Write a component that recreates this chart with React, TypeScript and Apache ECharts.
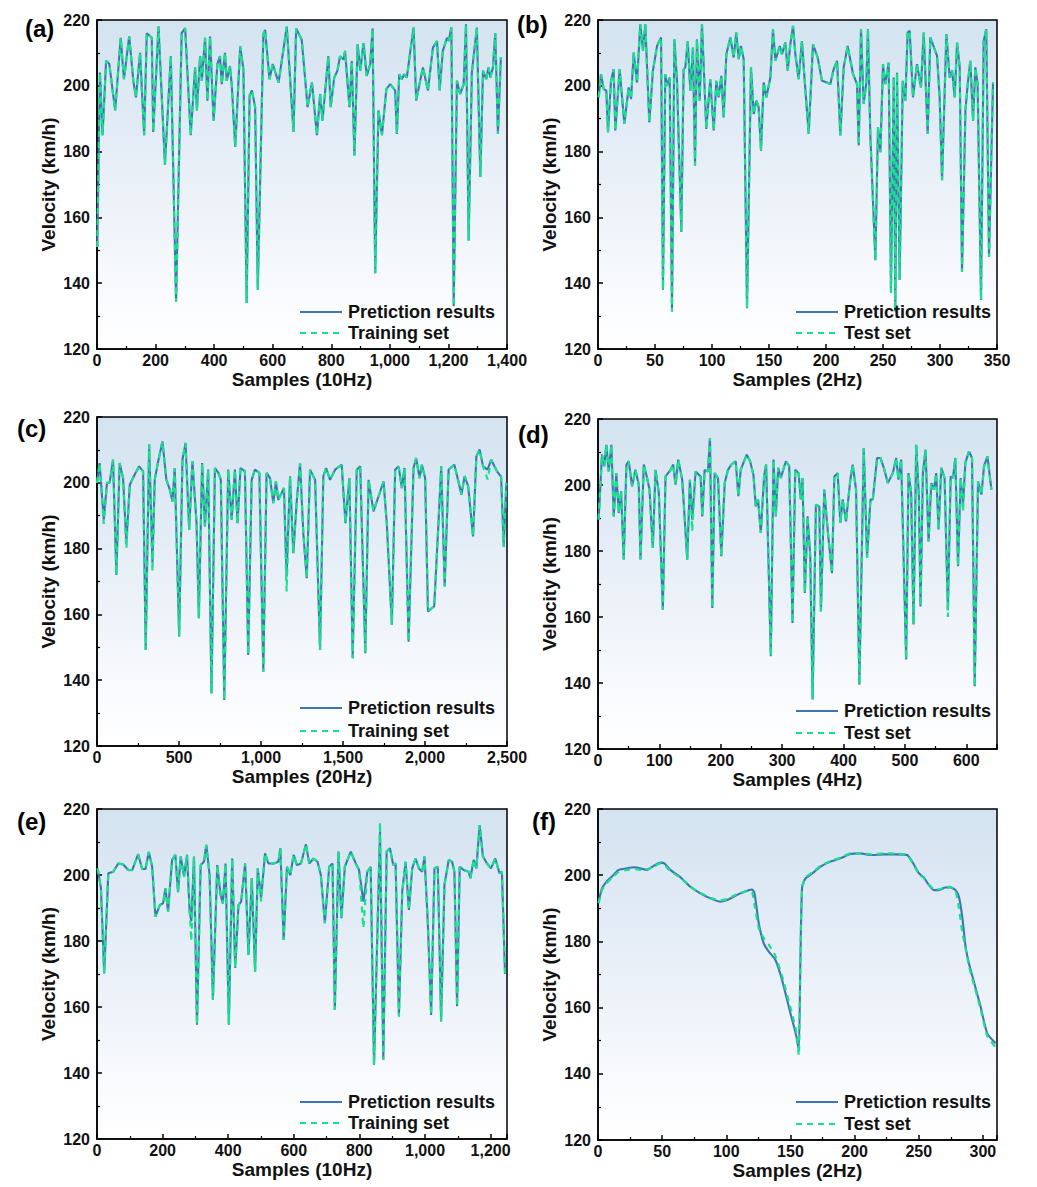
import React, { useEffect, useRef } from 'react';
import * as echarts from 'echarts';

// ---------- Panel (a) 10Hz training ----------
const aX = [1,10,19,31,42,62,81,92,110,124,133,147,161,170,187,192,210,232,252,270,289,301,320,335,341,352,358,369,377,386,398,411,420,426,437,443,454,460,472,489,500,511,521,529,540,549,568,574,589,600,620,648,671,680,699,719,734,751,762,770,790,798,810,821,830,842,847,862,870,879,890,899,910,921,933,941,950,961,973,988,1001,1018,1024,1032,1041,1049,1058,1070,1081,1090,1101,1113,1130,1147,1161,1170,1181,1195,1201,1210,1218,1229,1240,1252,1260,1269,1280,1297,1309,1318,1329,1337,1343,1352,1360,1369,1379];
const aPred = [151,204,185,207.6,206.6,192.5,214.6,202,215,201.5,196.5,210,185,216,214.6,186,218,176,209,134.4,216,217.5,185,205.6,192.5,209,201.5,214.6,195.5,215,189.4,206.6,209,200.5,210,201.5,206,200.5,181.4,212,205,134,197,198.6,193.5,138,215.7,217,202,206.6,201,218,186,217.4,214,193.5,201,185,197.5,189.4,209,193.5,202.5,204.6,209,208,210.6,193.5,207.5,178.8,212.6,204.6,213,203,206.6,217.4,143,192.5,185,199,200.5,198.6,185.4,203.5,202,203.5,202.5,210.6,217.7,195.5,200.5,205.6,198.6,211.6,213.6,198.6,210.6,214.6,213.6,217.7,133,201.5,197.5,200.5,218.7,153,204,217.7,172.3,204.6,202,205.6,202.5,205.6,216,185.4,208.6];
const aTrainOverrides: Record<number, number> = {};

// ---------- Panel (b) 2Hz test ----------
const bX = [0.6,2.6,5,7.3,8.8,11.4,13.7,15.2,19,23.1,26.9,29,31.3,34.2,37.1,39.5,41.5,45,48.2,51.8,55.3,57,59,60.5,62.9,64.9,67,69.3,73.1,75.1,76.6,78.7,81,83.3,85.1,86.8,89.2,91.2,95,98.5,101.5,103.8,105.8,108.2,110.2,112.6,116.1,119,121.3,123.4,125.4,127.8,130.7,134.2,136.6,138.9,140.9,143,145.3,147.7,151.2,153.5,155.6,159.4,161.4,164.3,166.4,168.7,171.1,173.1,176,178.9,181,184.8,188.6,192.7,196.5,200.9,203.8,206.7,209.7,212.6,215.5,219,223.7,227.2,228.7,230.7,233,235.4,236.8,238.9,243.3,245.6,247.7,250,252,255,257,259.4,260.8,262.3,264.6,267.3,269.6,271.6,273.4,276.3,279.8,283.3,285.7,289.2,291.5,297.4,299.7,301.8,305.6,308.5,310.6,312.9,315,317.3,319.3,322.3,324.3,326.6,329,331,333,336,338.3,340.6,343,346.5];
const bPred = [196.5,203.5,199,198.5,185.9,201.5,205,186.4,205,188.4,199.5,196,210.1,201,218.7,210.6,218.7,188.9,204.6,212.1,214.7,138,203.5,200,202.5,131.4,214.1,201.5,155.6,205,205.6,213.6,198.5,211.6,175.8,214.1,195.5,218.7,186.9,202,186.4,201.5,196.5,203,190.4,209.6,214.7,208.6,216.2,208.1,212.1,208.1,132.4,205.6,191.4,195.5,193.5,180.3,201,196.5,202.5,217.2,207.6,212.1,209.6,213.2,204.6,212.6,218.2,209.6,202,213.6,203,185.4,212.6,208.6,201.5,201,200.5,205,207.6,184.9,205.6,212.1,203.6,200.5,181.9,217.2,194.5,201,217.2,184.9,147,187.4,179.8,206.6,200.5,207,137,202.5,131.4,204,141,201.5,195.5,216.2,216.7,196.5,206.6,199.5,216.2,185.4,214.7,209.1,196.5,171.3,215.7,202.5,204.6,196.5,213.1,205.6,143.5,192.5,200.5,207.6,189.4,205.6,200.5,134.9,213.6,217.2,148,201];
const bTestOverrides: Record<number, number> = {};

// ---------- Panel (c) 20Hz training ----------
const cX = [0,16,41,61,77,98,118,138,159,179,200,230,257,281,297,318,338,352,373,399,423,444,460,474,501,521,540,562,582,607,621,641,658,678,698,719,740,755,776,800,821,841,857,875,902,922,943,963,990,1014,1034,1055,1075,1091,1105,1126,1140,1156,1177,1197,1217,1238,1258,1279,1299,1330,1360,1380,1397,1421,1452,1492,1515,1539,1559,1584,1605,1636,1656,1686,1717,1747,1767,1798,1818,1839,1859,1875,1900,1930,1946,1967,1981,2001,2018,2042,2056,2079,2099,2120,2144,2179,2206,2222,2242,2263,2293,2313,2333,2354,2382,2403,2439,2464,2480,2496];
const cPred = [200,206,188.8,200,200,207,172,206,201.4,181.7,199.4,202.5,205,203.5,149.2,211.6,175.6,200.9,206.5,212.6,200.9,197.9,194.3,204.5,153.3,207,212.1,185.7,206.5,187.7,158.8,206,186.7,204,136,204.5,203,200.9,134,204,188.8,204,187.7,204.5,203.5,147.7,200.9,204,203,142.6,203,201.4,193.8,200.4,194.8,196.9,198.4,171.5,202,178.6,193.8,206,184.7,171,204,200.9,149.2,202,204.5,200.9,204,205.5,187.7,201.4,146.7,204,205,148.2,200.9,191.3,195.9,200.4,187.7,156.8,204,205,198.4,204.5,151.7,204.5,207.5,201.4,205.5,201.4,160.9,161.9,162.4,184.7,205,168.5,204,205.5,199.9,196.4,202,199,183.7,208,210.1,205,204,207,203.5,201.9,180.6,200];
const cTrainOverrides: Record<number, number> = { 2: 187.5, 9: 180, 16: 173, 57: 167, 110: 201 };

// ---------- Panel (d) 4Hz test ----------
const dX = [1,6.5,10.3,13.6,17.4,21.8,25.6,29.9,33.8,37.6,41.9,46.3,50.1,55.5,61,66.4,69.2,74.6,80,83.9,89.3,93.7,99.1,105.6,110,118.2,122.5,126.3,130.7,137.2,145.4,149.7,153.5,159,167.2,169.9,173.7,179.1,182.4,186.2,190,195.5,200.9,206.4,211.8,217.3,224.3,228.7,232.5,236.9,242.3,247.8,253.2,257.1,260.8,265.2,270.6,273.9,281.5,285.9,289.7,293.5,297.8,306,311.5,316.9,321.3,326.7,330.5,333.2,337,341.4,345.8,349.6,355,360.5,363.2,368.6,374.1,381.2,385,390.4,394.8,398.6,404,411.1,414.9,420.4,425.8,432.9,438.3,443.8,447.6,454.7,460.1,465.6,472.1,480.3,485.7,489.5,493.9,502,505.8,510.2,514,518.4,522.7,525.4,529.3,533.6,538.5,542.9,547.2,551,554.8,559.2,564.6,570,574.5,578.3,582.1,586.5,590.8,594.7,598.4,604.4,609.3,613.7,619.1,624.6,628.9,634.4,640.9];
const dPred = [189.5,209.2,205.7,212.2,204.1,212.2,190.5,203.6,191.5,198.1,177.4,206.2,207.2,199.6,204.6,200.1,177.4,206.2,202.1,198.6,180.9,204.6,197.6,162.2,202.6,204.6,206.2,200.1,207.7,201.6,177.4,201.6,189.5,204.1,202.6,190.5,204.6,204.1,214.2,162.7,203.6,202.1,178.4,200.6,204.6,206.2,207.2,196.6,204.6,206.7,209.2,207.2,203.1,193.5,195.6,185.5,202.6,206.2,148.1,207.7,190.5,205.2,202.1,207.2,205.7,158.2,204.6,203.6,195.6,202.1,167.3,190.5,178.4,135,194,193.5,161.7,198.6,186.5,173.3,202.6,203.6,188.5,195.6,189,201.6,206.2,198.6,139.5,211.2,177.9,195.6,195.6,208.2,208.2,205.2,200.6,203.6,208.2,201.6,207.7,147.1,203.6,197.6,157.7,212.2,196.6,163.2,203.6,210.7,182.9,200.6,198.6,203.6,186.5,205.2,202.1,162.2,202.6,202.1,208.2,175.4,202.1,194,206.7,210.2,208.2,139,201.1,197.1,205.7,208.7,198.6];
const dTestOverrides: Record<number, number> = { 32: 186, 117: 160, 123: 192 };

// ---------- Panel (e) 10Hz training ----------
const eX = [2,12,22,34.4,49.6,64.8,80,95.2,107.3,125.5,137.7,147.8,158,168.1,178.2,191.4,201.5,208.6,216.7,228.9,239,247,255.2,265.3,274.4,282.5,287.6,295.7,304.8,316,326.1,333.2,343.3,353.4,366.6,376.7,383.8,391.9,402,412.2,421.3,431.4,439.5,451.6,461.8,471.9,482,490.1,500.3,512.4,522.5,538.7,552.9,559,569.1,579.2,589.4,599.5,609.6,621.8,637,647.1,660.3,672.4,682.5,694.7,707.9,718,725.1,736.2,745.3,755.5,773.7,788.9,799,812.2,824.3,834.4,844.6,862.8,872.9,883.1,893.1,903.3,910.4,920.5,930.6,940.8,950.9,961,971.2,981.3,991.4,998.5,1008.6,1018.7,1028.9,1039,1049.1,1059.3,1072.4,1082.6,1089.7,1097.8,1105.8,1118,1133.2,1138.3,1148.4,1156.5,1166.6,1176.8,1188.9,1201,1214.2,1227.4,1234.5,1244];
const ePred = [202,196,170.2,200.5,201,203.5,203.2,201.5,201.5,206.3,201.8,201.8,207,202.5,187.4,190.9,191.4,196,188.9,204.6,206.1,194.8,205.6,199.5,206.1,188.9,186,205.6,154.6,203,204,209.1,200,162.2,203,194,191.4,203.5,154.6,205,171.8,190.9,191.9,203.5,175.8,199,170.7,202,193,206.6,203.5,203.5,204,208.1,180.3,202.5,200,206.1,203,203.5,209.3,203.5,205,204,200,185.4,202.5,203.5,159.1,207.1,186.9,202.5,207.1,203.5,201.5,191.9,201,202.5,142.5,213,144,207.1,208.1,203,203.5,157.1,195,204,189.4,202,205,202,201,205.6,185.4,157.6,202,202.5,155.6,197,204.6,204,201,160.2,202.5,201.5,201,199,204.6,202,215.1,205.6,203.5,202,205,200.5,201,170];
const eTrainOverrides: Record<number, number> = { 26: 180, 48: 192, 75: 184, 79: 216 };

// ---------- Panel (f) 2Hz test ----------
const fX = [0.5,3.1,6.5,10.9,16.1,22.6,29.1,34.3,38.2,43.4,48.6,51.7,56.4,64.2,72,79.8,87.6,95.4,100.6,105.8,111,116.2,120.1,122,125.3,129.2,133.1,138.3,143.5,150,154.7,156.5,157.8,159.1,161.7,167,173.4,181.2,189,196.8,204.6,212.4,222.8,233.2,241,244.9,250.1,254,257.9,261.8,265.7,270.9,274.8,278.7,281.3,283.9,286.5,289.1,293,298.2,303.4,309.9];
const fPred = [192,196,198,199.6,201.6,202.1,202.4,201.9,201.6,202.8,203.8,203.6,201.6,199.4,196.5,194.5,193,192,192.5,193.5,194.5,195.3,195.7,194.5,185.5,179.4,176.9,174.4,168.3,158.3,151.2,147.2,175.4,196.5,199,200.5,202.6,204.1,205.1,206.4,206.6,206.1,206.3,206.3,206.1,204.1,200.6,199.3,197,195.5,195.5,196.3,196.3,195.5,193.5,187.5,178.4,173.4,167.8,160.3,152.2,149.2];
const fTest = [191.5,195.5,197.5,199.2,201,201.6,201.8,201.6,201.8,202.6,203.6,203.2,201.2,199.2,196.6,194.6,193.2,192.4,192.8,193.8,194.6,195.2,194.8,191,184,181,179,175.6,169.5,160,152.5,145.5,176,196,199.3,200.8,202.8,204.3,205.3,206.6,206.6,206.3,206.6,206.5,206.1,203.8,200.4,199.1,197.2,195.8,195.7,196.5,196.5,195.2,190,183,177.8,172.6,167,159.6,151.5,148];

const yTicks = { min: 120, max: 220, interval: 20 };
const predName = 'Pretiction results';

const FONT = "'Liberation Sans', Arial, Helvetica, sans-serif";
const BLUE = '#3f74b2';
const GREEN = '#17e28c';
const INK = '#111111';
const DASH = [6, 5];

function zip(xs: number[], ys: number[]) {
  const n = Math.min(xs.length, ys.length);
  const out: number[][] = [];
  for (let i = 0; i < n; i++) out.push([xs[i], ys[i]]);
  return out;
}
function applyOverrides(ys: number[], ov: Record<number, number>) {
  const out = ys.slice();
  Object.keys(ov).forEach((k) => { out[+k] = ov[+k]; });
  return out;
}

const panels = [
  { tag: '(a)', xs: aX, pred: aPred, ref: applyOverrides(aPred, aTrainOverrides), refName: 'Training set', xMax: 1400, xInt: 200, xName: 'Samples (10Hz)', grid: { left: 97, top: 20, width: 410, height: 329 }, tagPos: [25, 16], legendPos: [300, 312, 333], smooth: false },
  { tag: '(b)', xs: bX, pred: bPred, ref: applyOverrides(bPred, bTestOverrides), refName: 'Test set', xMax: 350, xInt: 50, xName: 'Samples (2Hz)', grid: { left: 598, top: 20, width: 399, height: 329 }, tagPos: [517, 12], legendPos: [796, 312, 333], smooth: false },
  { tag: '(c)', xs: cX, pred: cPred, ref: applyOverrides(cPred, cTrainOverrides), refName: 'Training set', xMax: 2500, xInt: 500, xName: 'Samples (20Hz)', grid: { left: 97, top: 417, width: 410, height: 329 }, tagPos: [17, 416], legendPos: [300, 708, 731], smooth: false },
  { tag: '(d)', xs: dX, pred: dPred, ref: applyOverrides(dPred, dTestOverrides), refName: 'Test set', xMax: 650, xInt: 100, xName: 'Samples (4Hz)', grid: { left: 598, top: 419, width: 399, height: 330 }, tagPos: [518, 422], legendPos: [796, 711, 733], smooth: false },
  { tag: '(e)', xs: eX, pred: ePred, ref: applyOverrides(ePred, eTrainOverrides), refName: 'Training set', xMax: 1250, xInt: 200, xName: 'Samples (10Hz)', grid: { left: 97, top: 809, width: 410, height: 330 }, tagPos: [17, 809], legendPos: [300, 1102, 1123], smooth: false },
  { tag: '(f)', xs: fX, pred: fPred, ref: fTest, refName: 'Test set', xMax: 311, xInt: 50, xName: 'Samples (2Hz)', grid: { left: 598, top: 809, width: 399, height: 331 }, tagPos: [532, 809], legendPos: [796, 1102, 1124], smooth: true },
];

const bg = () => new echarts.graphic.LinearGradient(0, 0, 0, 1, [
  { offset: 0, color: '#d3e3f0' },
  { offset: 0.35, color: '#e3ecf6' },
  { offset: 0.7, color: '#f3f6fb' },
  { offset: 0.88, color: '#fbfcfe' },
  { offset: 1, color: '#ffffff' },
]);

const labelStyle = { fontFamily: FONT, fontSize: 16, fontWeight: 'bold' as const, color: INK };
const nameStyle = { fontFamily: FONT, fontSize: 19, fontWeight: 'bold' as const, color: INK };

function buildOption() {
  const grid: any[] = [];
  const xAxis: any[] = [];
  const yAxis: any[] = [];
  const series: any[] = [];
  const graphic: any[] = [];

  panels.forEach((p, i) => {
    grid.push({ ...p.grid, show: true, borderColor: '#000', borderWidth: 1.5, backgroundColor: bg(), containLabel: false });
    xAxis.push({
      type: 'value', gridIndex: i, min: 0, max: p.xMax, interval: p.xInt,
      axisLine: { show: true, onZero: false, lineStyle: { color: '#000', width: 1.5 } },
      axisTick: { show: true, inside: true, length: 5, lineStyle: { color: '#000', width: 1.5 } },
      minorTick: { show: true, splitNumber: 2, length: 3, lineStyle: { color: '#000', width: 1.2 } },
      splitLine: { show: false },
      axisLabel: {
        ...labelStyle, margin: 3,
        formatter: (v: number) => (v % p.xInt === 0 ? v.toLocaleString('en-US') : ''),
      },
      name: p.xName, nameLocation: 'middle', nameGap: 21, nameTextStyle: nameStyle,
    });
    yAxis.push({
      type: 'value', gridIndex: i, min: yTicks.min, max: yTicks.max, interval: yTicks.interval,
      axisLine: { show: true, onZero: false, lineStyle: { color: '#000', width: 1.5 } },
      axisTick: { show: true, inside: true, length: 5, lineStyle: { color: '#000', width: 1.5 } },
      minorTick: { show: true, splitNumber: 2, length: 3, lineStyle: { color: '#000', width: 1.2 } },
      splitLine: { show: false },
      axisLabel: { ...labelStyle, margin: 7 },
      name: 'Velocity (km/h)', nameLocation: 'middle', nameGap: 39, nameTextStyle: nameStyle,
    });
    series.push({
      type: 'line', name: predName, xAxisIndex: i, yAxisIndex: i,
      data: zip(p.xs, p.pred), symbol: 'none', smooth: p.smooth ? 0.2 : false,
      lineStyle: { color: BLUE, width: 2.1 }, itemStyle: { color: BLUE },
    });
    series.push({
      type: 'line', name: p.refName, xAxisIndex: i, yAxisIndex: i,
      data: zip(p.xs, p.ref), symbol: 'none', smooth: p.smooth ? 0.2 : false,
      lineStyle: { color: GREEN, width: 2.2, type: DASH }, itemStyle: { color: GREEN },
    });
    // legend drawn as graphic (line samples + texts)
    const [lx, r1, r2] = p.legendPos;
    graphic.push({
      type: 'line', shape: { x1: lx, y1: r1, x2: lx + 42, y2: r1 },
      style: { stroke: BLUE, lineWidth: 1.8 }, silent: true, z: 100,
    });
    graphic.push({
      type: 'line', shape: { x1: lx, y1: r2, x2: lx + 42, y2: r2 },
      style: { stroke: GREEN, lineWidth: 2, lineDash: DASH }, silent: true, z: 100,
    });
    graphic.push({
      type: 'text', x: lx + 48, y: r1, silent: true, z: 100,
      style: { text: predName, font: `bold 18px ${FONT}`, fill: INK, textVerticalAlign: 'middle', verticalAlign: 'middle' },
    });
    graphic.push({
      type: 'text', x: lx + 48, y: r2, silent: true, z: 100,
      style: { text: p.refName, font: `bold 18px ${FONT}`, fill: INK, textVerticalAlign: 'middle', verticalAlign: 'middle' },
    });
    graphic.push({
      type: 'text', left: p.tagPos[0], top: p.tagPos[1],
      style: { text: p.tag, font: `bold 24px ${FONT}`, fill: '#000' },
    });
  });

  return { animation: false, backgroundColor: '#ffffff', grid, xAxis, yAxis, series, graphic };
}

export default function App() {
  const ref = useRef<HTMLDivElement>(null);
  useEffect(() => {
    document.body.style.margin = '0';
    if (!ref.current) return;
    const chart = echarts.init(ref.current, undefined, { renderer: 'svg' });
    chart.setOption(buildOption() as any);
    return () => chart.dispose();
  }, []);
  return <div ref={ref} style={{ width: 1037, height: 1187 }} />;
}
